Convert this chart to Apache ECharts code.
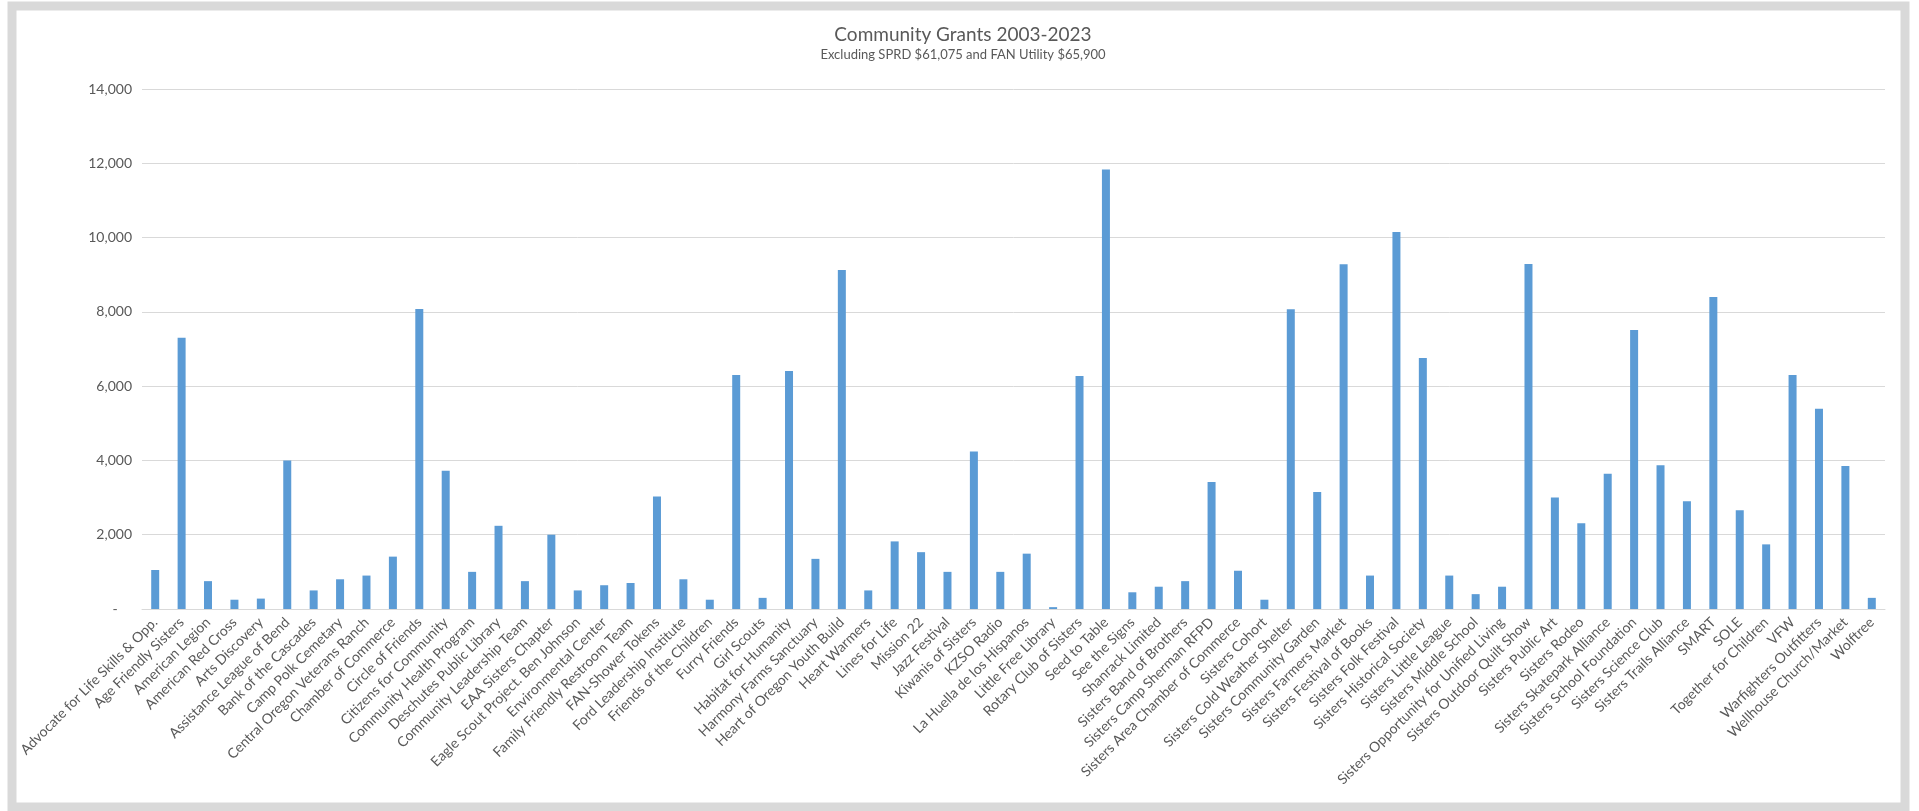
<!DOCTYPE html>
<html>
<head>
<meta charset="utf-8">
<script src="https://cdn.jsdelivr.net/npm/echarts@6/dist/echarts.min.js"></script>
<style>
html,body{margin:0;padding:0;background:#fff;}
#chart{width:1919px;height:811px;}
</style>
</head>
<body>
<div id="chart"></div>
<script>
const titleText = 'Community Grants 2003-2023';
const subtitleText = 'Excluding SPRD $61,075 and FAN Utility $65,900';

const categories = [
  'Advocate for Life Skills & Opp.', 'Age Friendly Sisters', 'American Legion', 'American Red Cross',
  'Arts Discovery', 'Assistance League of Bend', 'Bank of the Cascades', 'Camp Polk Cemetary',
  'Central Oregon Veterans Ranch', 'Chamber of Commerce', 'Circle of Friends', 'Citizens for Community',
  'Community Health Program', 'Deschutes Public Library', 'Community Leadership Team', 'EAA Sisters Chapter',
  'Eagle Scout Project. Ben Johnson', 'Environmental Center', 'Family Friendly Restroom Team', 'FAN-Shower Tokens',
  'Ford Leadership Institute', 'Friends of the Children', 'Furry Friends', 'Girl Scouts',
  'Habitat for Humanity', 'Harmony Farms Sanctuary', 'Heart of Oregon Youth Build', 'Heart Warmers',
  'Lines for Life', 'Mission 22', 'Jazz Festival', 'Kiwanis of Sisters',
  'KZSO Radio', 'La Huella de los Hispanos', 'Little Free Library', 'Rotary Club of Sisters',
  'Seed to Table', 'See the Signs', 'Shanrack Limited', 'Sisters Band of Brothers',
  'Sisters Camp Sherman RFPD', 'Sisters Area Chamber of Commerce', 'Sisters Cohort', 'Sisters Cold Weather Shelter',
  'Sisters Community Garden', 'Sisters Farmers Market', 'Sisters Festival of Books', 'Sisters Folk Festival',
  'Sisters Historical Society', 'Sisters Little League', 'Sisters Middle School', 'Sisters Opportunity for Unified Living',
  'Sisters Outdoor Quilt Show', 'Sisters Public Art', 'Sisters Rodeo', 'Sisters Skatepark Alliance',
  'Sisters School Foundation', 'Sisters Science Club', 'Sisters Trails Alliance', 'SMART',
  'SOLE', 'Together for Children', 'VFW', 'Warfighters Outfitters',
  'Wellhouse Church/Market', 'Wolftree'
];

const grantValues = [
  1050, 7300, 750, 250,
  280, 4000, 500, 800,
  900, 1410, 8080, 3720,
  1000, 2240, 750, 2000,
  500, 640, 700, 3030,
  800, 250, 6300, 300,
  6410, 1350, 9130, 500,
  1820, 1530, 1000, 4240,
  1000, 1490, 50, 6270,
  11830, 450, 600, 750,
  3420, 1030, 250, 8070,
  3150, 9280, 900, 10150,
  6760, 900, 400, 600,
  9290, 3000, 2310, 3640,
  7510, 3870, 2900, 8400,
  2660, 1740, 6300, 5390,
  3850, 300
];

const yTicks = [0, 2000, 4000, 6000, 8000, 10000, 12000, 14000];

const chart = echarts.init(document.getElementById('chart'), null, {renderer: 'canvas'});
const textColor = '#595959';
const fontFam = 'Lato, "Open Sans", sans-serif';

chart.setOption({
  backgroundColor: '#ffffff',
  animation: false,
  title: [
    {
      text: titleText,
      left: 958, top: 20, textAlign: 'center',
      textStyle: {fontFamily: fontFam, fontSize: 19, fontWeight: 'normal', color: textColor}
    },
    {
      text: subtitleText,
      left: 958, top: 43, textAlign: 'center',
      textStyle: {fontFamily: fontFam, fontSize: 13, fontWeight: 'normal', color: textColor}
    }
  ],
  graphic: [
    {
      type: 'rect',
      shape: {x: 12, y: 6, width: 1893, height: 801},
      style: {fill: 'none', stroke: '#d9d9d9', lineWidth: 9},
      silent: true
    }
  ],
  grid: {left: 142, right: 34, top: 89, bottom: 202, containLabel: false},
  xAxis: {
    type: 'category',
    data: categories,
    axisLine: {show: true, lineStyle: {color: '#d9d9d9', width: 1}},
    axisTick: {show: false},
    axisLabel: {
      interval: 0, rotate: 45, margin: 11,
      color: textColor, fontFamily: fontFam, fontSize: 14
    },
    splitLine: {show: false}
  },
  yAxis: {
    type: 'value',
    min: yTicks[0], max: yTicks[yTicks.length - 1], interval: 2000,
    axisLine: {show: false},
    axisTick: {show: false},
    axisLabel: {
      margin: 10, color: textColor, fontFamily: fontFam, fontSize: 14,
      formatter: function (v) { return v === 0 ? '-    ' : v.toLocaleString('en-US'); }
    },
    splitLine: {show: true, lineStyle: {color: '#d9d9d9', width: 1}}
  },
  series: [
    {
      type: 'bar',
      data: grantValues,
      barWidth: 8,
      itemStyle: {color: '#5b9bd5'}
    }
  ]
});
</script>
</body>
</html>
